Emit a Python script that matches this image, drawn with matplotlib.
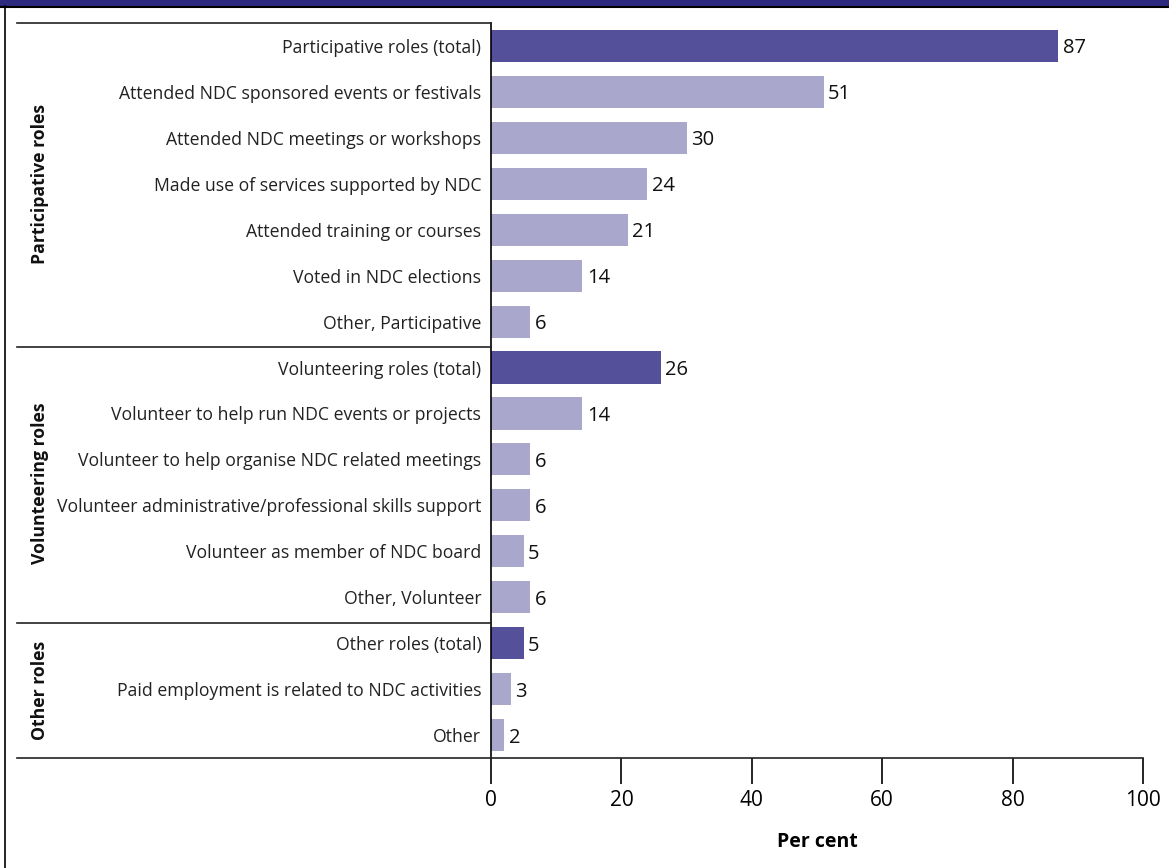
import numpy as np
import matplotlib.pyplot as plt
from matplotlib.patches import Rectangle
from matplotlib.lines import Line2D

plt.rcParams['font.family'] = ['Open Sans', 'DejaVu Sans']

labels = ['Participative roles (total)',
          'Attended NDC sponsored events or festivals',
          'Attended NDC meetings or workshops',
          'Made use of services supported by NDC',
          'Attended training or courses',
          'Voted in NDC elections',
          'Other, Participative',
          'Volunteering roles (total)',
          'Volunteer to help run NDC events or projects',
          'Volunteer to help organise NDC related meetings',
          'Volunteer administrative/professional skills support',
          'Volunteer as member of NDC board',
          'Other, Volunteer',
          'Other roles (total)',
          'Paid employment is related to NDC activities',
          'Other']
values = [87, 51, 30, 24, 21, 14, 6, 26, 14, 6, 6, 5, 6, 5, 3, 2]
is_total = [1, 0, 0, 0, 0, 0, 0, 1, 0, 0, 0, 0, 0, 1, 0, 0]
groups = ['Participative roles', 'Volunteering roles', 'Other roles']
group_rows = [(0, 6), (7, 12), (13, 15)]

dark = '#54519a'
light = '#a9a7cc'

W, H = 1169, 868
fig = plt.figure(figsize=(W/100, H/100), dpi=100)
# axes in pixel coords: x from 491 to 1143, y from 23 to 758
ax = fig.add_axes([491/W, 1-758/H, (1143-491)/W, (758-23)/H])

y = np.arange(len(values))
cols = [dark if t else light for t in is_total]
ax.barh(y, values, height=0.7, color=cols, zorder=2)
for yi, v in zip(y, values):
    ax.text(v + 0.7, yi, str(v), va='center_baseline', ha='left', fontsize=14.5, color='#111111')

ax.set_ylim(len(values) - 0.5, -0.5)
ax.set_xlim(0, 100)
ax.set_yticks(y)
ax.set_yticklabels(labels, fontsize=12.7, color='#222222')
ax.tick_params(axis='y', length=0, pad=7)
ax.set_xticks([0, 20, 40, 60, 80, 100])
ax.tick_params(axis='x', length=19, width=1.2, direction='out', pad=4, labelsize=15)
for s in ['top', 'right', 'bottom']:
    ax.spines[s].set_visible(False)
ax.spines['left'].set_linewidth(1.2)
ax.set_xlabel('Per cent', fontsize=14, fontweight='bold', labelpad=15)

# frame lines in figure pixel coords
def hline(x0, x1, yy, lw=1.2, c='#222222'):
    fig.add_artist(Line2D([x0/W, x1/W], [1-yy/H, 1-yy/H], color=c, lw=lw))

hline(17, 491, 23)
hline(17, 491, 347)
hline(17, 491, 623)
hline(17, 1143, 758)

# group labels
for g, (a, b) in zip(groups, group_rows):
    top = 23 + a * 46
    bot = 23 + (b + 1) * 46
    yc = (top + bot) / 2
    fig.text(40/W, 1-yc/H, g, rotation=90, ha='center', va='center',
             fontsize=12.7, fontweight='bold', color='#111111')

# top band and left border
fig.add_artist(Rectangle((0, 1-6/H), 1, 6/H, color='#2b2a7f', transform=fig.transFigure))
hline(0, W, 6.5, lw=1.5, c='#000000')
fig.add_artist(Line2D([5/W, 5/W], [0, 1-6/H], color='#000000', lw=1.2))

fig.savefig('out.png', dpi=100)
